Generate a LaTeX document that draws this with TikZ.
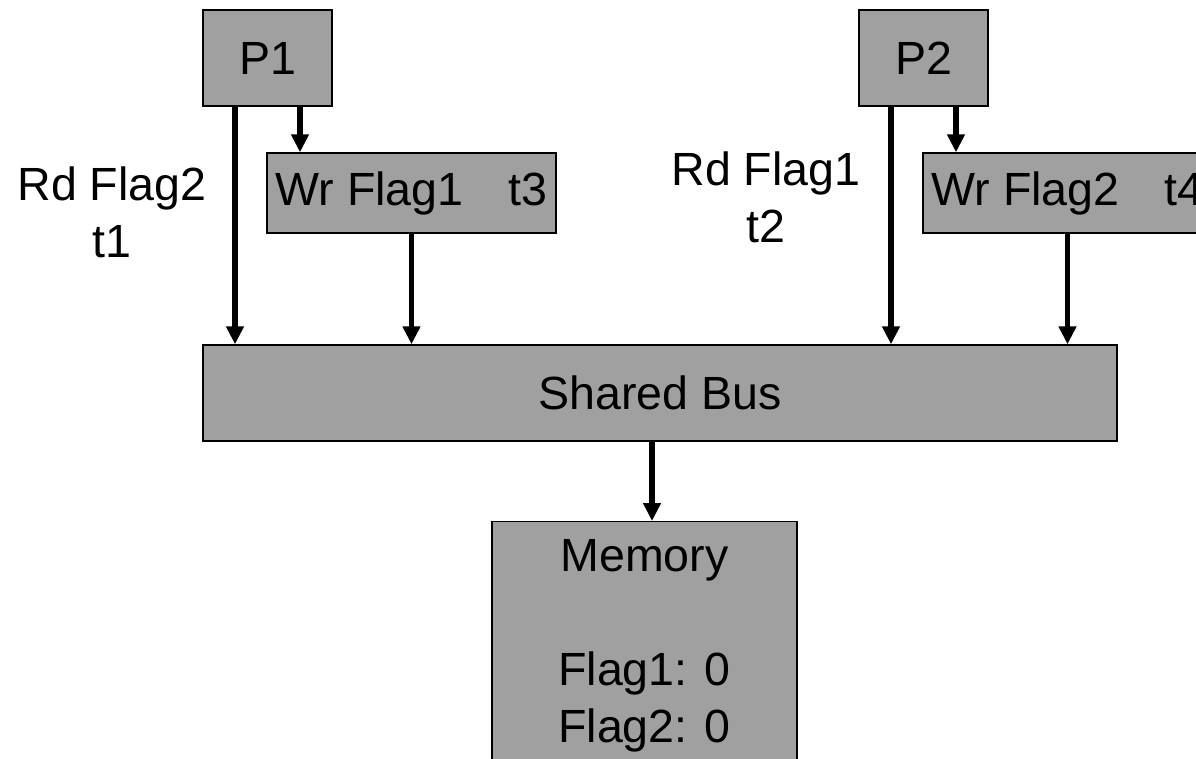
\documentclass[tikz,border=0pt]{standalone}
\usepackage{fontspec}
\setmainfont{Liberation Sans}
\usetikzlibrary{positioning, calc, arrows.meta}
\definecolor{boxgray}{RGB}{160,160,160}
\tikzset{
every node/.style = {font = \fontsize{26.5}{32.4}\selectfont},
unit/.style = {rectangle, draw, fill = boxgray, line width = 0.8pt, inner sep = 0pt,
   align = center},
writebox/.style = {unit, minimum width = 5.78cm, minimum height = 1.6cm},
procbox/.style = {unit, minimum width = 2.58cm, minimum height = 1.92cm},
wire/.style = {-{Triangle[length = 3.6mm, width = 3.4mm]}, line width = 3pt},
caption/.style = {align = center, inner sep = 0pt}
}

\begin{document}
\begin{tikzpicture}[x = 0.02cm, y = -0.02cm]
\useasboundingbox (0,0) rectangle (1196,759);

%% Processors and their writes
\node [procbox] (p1) at (267.5, 58) {P1};
\node [procbox] (p2) at (923.5, 58) {P2};
\node [writebox] (wr1) at (411.5, 193) {Wr Flag1\hspace{0.9cm}t3};
\node [writebox] (wr2) at (1067.5, 193) {Wr Flag2\hspace{0.9cm}t4};

%% Bus and memory
\node [unit, minimum width = 18.28cm, minimum height = 1.92cm] (bus) at (660, 393) {Shared Bus};
\node [unit, minimum width = 6.1cm, inner ysep = 10pt, anchor = north] (mem) at (644.5, 521)
   {Memory\\[32.4pt]Flag1: 0\\Flag2: 0};

%% Reads
\node [caption] (rd1) at (112, 212) {Rd Flag2\\t1};
\node [caption] (rd2) at (766, 197) {Rd Flag1\\t2};

%% Connectors
\foreach \p/\w in {p1/wr1, p2/wr2} {
   \draw [wire] ([xshift = -0.65cm]\p.south) -- ([xshift = -0.65cm]\p.south |- bus.north);
   \draw [wire] ([xshift = 0.65cm]\p.south) -- ([xshift = 0.65cm]\p.south |- \w.north);
   \draw [wire] (\w.south) -- (\w.south |- bus.north);
}
\draw [wire] ([xshift = -0.16cm]bus.south) -- ([xshift = -0.16cm]bus.south |- mem.north);

\end{tikzpicture}
\end{document}
